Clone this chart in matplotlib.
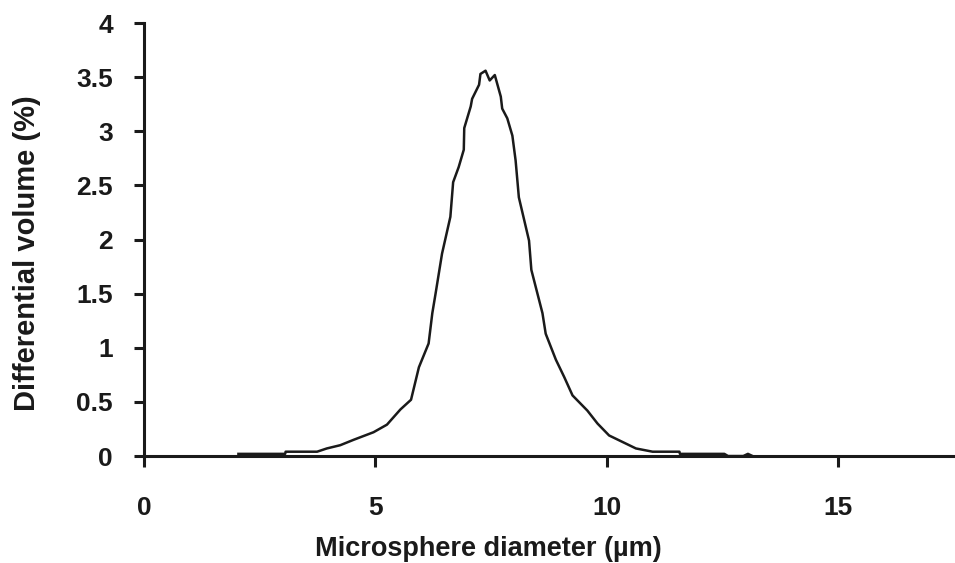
import matplotlib
matplotlib.use("Agg")
import matplotlib.pyplot as plt

# ── Data ────────────────────────────────────────────────────────────────
diameter = [2.04, 3.05, 3.06, 3.74, 3.95, 4.24, 4.53, 4.96, 5.25, 5.54,
            5.77, 5.94, 6.15, 6.23, 6.30, 6.44, 6.62, 6.68, 6.80, 6.91,
            6.92, 7.06, 7.09, 7.24, 7.27, 7.38, 7.41, 7.47, 7.58, 7.71,
            7.74, 7.85, 7.96, 8.03, 8.10, 8.32, 8.37, 8.61, 8.68, 8.90,
            9.08, 9.26, 9.58, 9.80, 10.05, 10.63, 10.99, 11.57, 11.58, 12.54,
            12.62, 12.95, 13.05, 13.15]
volume = [0.02, 0.02, 0.04, 0.04, 0.07, 0.10, 0.15, 0.22, 0.29, 0.43,
          0.52, 0.82, 1.04, 1.32, 1.50, 1.87, 2.21, 2.53, 2.67, 2.83,
          3.03, 3.23, 3.30, 3.43, 3.53, 3.56, 3.53, 3.47, 3.52, 3.32,
          3.21, 3.12, 2.96, 2.73, 2.39, 1.99, 1.72, 1.32, 1.13, 0.89,
          0.73, 0.56, 0.42, 0.30, 0.19, 0.07, 0.04, 0.04, 0.02, 0.02,
          0.0, 0.0, 0.02, 0.0]

x_ticks = [0, 5, 10, 15]
y_ticks = [0, 0.5, 1, 1.5, 2, 2.5, 3, 3.5, 4]
y_tick_labels = ["0", "0.5", "1", "1.5", "2", "2.5", "3", "3.5", "4"]

plt.rcParams["font.family"] = ["Liberation Sans", "DejaVu Sans"]
plt.rcParams["font.weight"] = "bold"

ink = "#1a1a1a"

fig = plt.figure(figsize=(9.55, 5.63), dpi=100)
ax = fig.add_axes([0.1508, 0.190, 0.848, 0.769])

ax.plot(diameter, volume, color=ink, linewidth=1.8)

ax.set_xlim(0, 17.5)
ax.set_ylim(0, 4)
ax.set_xticks(x_ticks)
ax.set_yticks(y_ticks)
ax.set_yticklabels(y_tick_labels)

for side in ("top", "right"):
    ax.spines[side].set_visible(False)
for side in ("left", "bottom"):
    ax.spines[side].set_linewidth(2.2)
    ax.spines[side].set_color(ink)

ax.tick_params(axis="x", direction="out", length=8, width=2.2,
               pad=21, labelsize=19, colors=ink)
ax.tick_params(axis="y", direction="out", length=7.5, width=2.2,
               pad=15, labelsize=19, colors=ink)

ax.set_xlabel("Microsphere diameter (µm)", fontsize=19.5, fontweight="bold",
              color=ink)
ax.set_ylabel("Differential volume (%)", fontsize=21, fontweight="bold",
              color=ink)
ax.xaxis.set_label_coords(0.425, -0.184)
ax.yaxis.set_label_coords(-0.127, 0.469)

fig.savefig("out.png", dpi=100)
